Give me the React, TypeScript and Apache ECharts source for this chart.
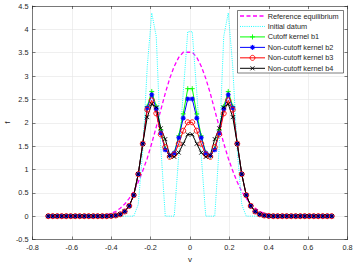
import React, { useEffect, useRef } from "react";
import * as echarts from "echarts";

const vGrid = [
  -0.72, -0.6971, -0.6743, -0.6514, -0.6286, -0.6057, -0.5829, -0.56, -0.5371, -0.5143, -0.4914, -0.4686,
  -0.4457, -0.4229, -0.4, -0.3771, -0.3543, -0.3314, -0.3086, -0.2857, -0.2629, -0.24, -0.2171, -0.1943,
  -0.1714, -0.1486, -0.1257, -0.1029, -0.08, -0.0571, -0.0343, -0.0114,
  0.0114, 0.0343, 0.0571, 0.08, 0.1029, 0.1257, 0.1486, 0.1714, 0.1943, 0.2171, 0.24, 0.2629,
  0.2857, 0.3086, 0.3314, 0.3543, 0.3771, 0.4, 0.4229, 0.4457, 0.4686, 0.4914, 0.5143, 0.5371,
  0.56, 0.5829, 0.6057, 0.6286, 0.6514, 0.6743, 0.6971, 0.72,
];

const refEquilibrium = [
  0, 0, 0, 0, 0, 0, 0, 0, 0, 0, 0, 0.005, 0.015, 0.03, 0.06, 0.1, 0.17, 0.26, 0.38, 0.53, 0.73, 0.97, 1.24, 1.56,
  1.91, 2.27, 2.63, 2.95, 3.21, 3.4, 3.51, 3.51,
  3.51, 3.4, 3.21, 2.95, 2.63, 2.27, 1.91, 1.56, 1.24, 0.97, 0.73, 0.53, 0.38, 0.26, 0.17, 0.1,
  0.06, 0.03, 0.015, 0.005, 0, 0, 0, 0, 0, 0, 0, 0, 0, 0, 0, 0,
];

const initialDatum = [
  0, 0, 0, 0, 0, 0, 0, 0, 0, 0, 0, 0, 0, 0, 0, 0, 0, 0, 0, 0, 0.25, 1.4, 3.2, 4.35,
  3.85, 1.5, 0, 0, 0, 1.3, 2.65, 3.95,
  3.95, 2.65, 1.3, 0, 0, 0, 1.5, 3.85, 4.35, 3.2, 1.4, 0.25, 0, 0, 0, 0,
  0, 0, 0, 0, 0, 0, 0, 0, 0, 0, 0, 0, 0, 0, 0, 0,
];

const kernelB1 = [
  0, 0, 0, 0, 0, 0, 0, 0, 0, 0, 0, 0, 0, 0, 0.005, 0.015, 0.04, 0.1, 0.22, 0.45, 0.9, 1.55, 2.35, 2.67,
  2.35, 1.85, 1.45, 1.28, 1.36, 1.72, 2.19, 2.73,
  2.73, 2.19, 1.72, 1.36, 1.28, 1.45, 1.85, 2.35, 2.67, 2.35, 1.55, 0.9, 0.45, 0.22, 0.1, 0.04,
  0.015, 0.005, 0, 0, 0, 0, 0, 0, 0, 0, 0, 0, 0, 0, 0, 0,
];

const kernelB2 = [
  0, 0, 0, 0, 0, 0, 0, 0, 0, 0, 0, 0, 0, 0, 0.005, 0.015, 0.04, 0.1, 0.22, 0.45, 0.9, 1.55, 2.32, 2.6,
  2.3, 1.78, 1.42, 1.3, 1.35, 1.68, 2.1, 2.51,
  2.51, 2.1, 1.68, 1.35, 1.3, 1.42, 1.78, 2.3, 2.6, 2.32, 1.55, 0.9, 0.45, 0.22, 0.1, 0.04,
  0.015, 0.005, 0, 0, 0, 0, 0, 0, 0, 0, 0, 0, 0, 0, 0, 0,
];

const kernelB3 = [
  0, 0, 0, 0, 0, 0, 0, 0, 0, 0, 0, 0, 0, 0, 0.005, 0.015, 0.04, 0.1, 0.22, 0.45, 0.9, 1.55, 2.28, 2.48,
  2.2, 1.75, 1.48, 1.27, 1.32, 1.55, 1.83, 2.01,
  2.01, 1.83, 1.55, 1.32, 1.27, 1.48, 1.75, 2.2, 2.48, 2.28, 1.55, 0.9, 0.45, 0.22, 0.1, 0.04,
  0.015, 0.005, 0, 0, 0, 0, 0, 0, 0, 0, 0, 0, 0, 0, 0, 0,
];

const kernelB4 = [
  0, 0, 0, 0, 0, 0, 0, 0, 0, 0, 0, 0, 0, 0, 0.005, 0.015, 0.04, 0.1, 0.22, 0.45, 0.9, 1.55, 2.12, 2.4,
  2.33, 1.88, 1.65, 1.3, 1.27, 1.36, 1.55, 1.75,
  1.75, 1.55, 1.36, 1.27, 1.3, 1.65, 1.88, 2.33, 2.4, 2.12, 1.55, 0.9, 0.45, 0.22, 0.1, 0.04,
  0.015, 0.005, 0, 0, 0, 0, 0, 0, 0, 0, 0, 0, 0, 0, 0, 0,
];

const seriesNames = [
  "Reference equilibrium",
  "Initial datum",
  "Cutoff kernel b1",
  "Non-cutoff kernel b2",
  "Non-cutoff kernel b3",
  "Non-cutoff kernel b4",
];

const FONT = "Liberation Sans, Arial, sans-serif";
const AX = "#262626";

const PLUS = "path://M0,5L10,5M5,0L5,10";
const CROSS = "path://M0,0L10,10M10,0L0,10";
const STAR = "path://M0,5L10,5M5,0L5,10M1.5,1.5L8.5,8.5M8.5,1.5L1.5,8.5";

function pairs(ys: number[]) {
  return vGrid.map((v, i) => [v, ys[i]]);
}

type LegendSpec = { color: string; width: number; dash?: number[]; marker: string };
const legendSpecs: LegendSpec[] = [
  { color: "#ff00ff", width: 1.3, dash: [4, 2.5], marker: "none" },
  { color: "#00ffff", width: 0.9, dash: [1, 1.2], marker: "none" },
  { color: "#00ff00", width: 1, marker: "plus" },
  { color: "#0000ff", width: 1, marker: "star" },
  { color: "#ff0000", width: 1, marker: "circle" },
  { color: "#000000", width: 1, marker: "cross" },
];

function buildLegend() {
  const els: any[] = [];
  const boxX = 237.5, boxY = 10.5, boxW = 106, boxH = 62.5;
  els.push({
    type: "rect", z: 100, shape: { x: boxX, y: boxY, width: boxW, height: boxH },
    style: { fill: "#fff", stroke: AX, lineWidth: 0.6 },
  });
  const x1 = 240, x2 = 265, cx = 252.5;
  legendSpecs.forEach((s, i) => {
    const y = 16 + i * 10.46;
    els.push({
      type: "line", z: 101, shape: { x1, y1: y, x2, y2: y },
      style: { stroke: s.color, lineWidth: s.width, lineDash: s.dash || null },
    });
    const r = 2.5;
    const seg = (ax: number, ay: number, bx: number, by: number, w: number) => ({
      type: "line", z: 102, shape: { x1: ax, y1: ay, x2: bx, y2: by },
      style: { stroke: s.color, lineWidth: w },
    });
    if (s.marker === "plus") {
      els.push(seg(cx - r, y, cx + r, y, 0.9), seg(cx, y - r, cx, y + r, 0.9));
    } else if (s.marker === "cross") {
      els.push(seg(cx - 2, y - 2, cx + 2, y + 2, 0.9), seg(cx - 2, y + 2, cx + 2, y - 2, 0.9));
    } else if (s.marker === "star") {
      els.push(
        seg(cx - r, y, cx + r, y, 1.1), seg(cx, y - r, cx, y + r, 1.1),
        seg(cx - 1.8, y - 1.8, cx + 1.8, y + 1.8, 1.1), seg(cx - 1.8, y + 1.8, cx + 1.8, y - 1.8, 1.1)
      );
    } else if (s.marker === "circle") {
      els.push({
        type: "circle", z: 102, shape: { cx, cy: y, r: 2.5 },
        style: { fill: "none", stroke: s.color, lineWidth: 0.9 },
      });
    }
    els.push({
      type: "text", z: 102, x: 267.7, y,
      style: {
        text: seriesNames[i], fontSize: 7.3, fill: AX, fontFamily: FONT,
        verticalAlign: "middle", align: "left",
      },
    });
  });
  return els;
}

export default function App() {
  const ref = useRef<HTMLDivElement>(null);
  useEffect(() => {
    document.body.style.margin = "0";
    if (!ref.current) return;
    const chart = echarts.init(ref.current, undefined, { renderer: "svg" });
    const axisLine = { show: true, onZero: false, lineStyle: { color: AX, width: 0.6 } };
    const axisTick = { show: true, inside: true, length: 3, lineStyle: { color: AX, width: 0.6 } };
    const splitLine = { show: true, lineStyle: { color: "#e4e4e4", width: 0.6 } };
    const labelStyle = { fontSize: 7.3, color: AX, fontFamily: FONT };
    chart.setOption({
      animation: false,
      backgroundColor: "#fff",
      grid: {
        left: 32.5, right: 6.5, top: 6, bottom: 26.5,
        containLabel: false, outerBoundsMode: "none",
      },
      xAxis: [
        {
          type: "value", min: -0.8, max: 0.8, interval: 0.2, position: "bottom",
          axisLine, axisTick, splitLine,
          axisLabel: { ...labelStyle, margin: 4 },
          name: "v", nameLocation: "middle", nameGap: 15,
          nameTextStyle: { fontSize: 8, color: AX, fontFamily: FONT },
        },
        {
          type: "value", min: -0.8, max: 0.8, interval: 0.2, position: "top",
          axisLine, axisTick, splitLine: { show: false }, axisLabel: { show: false },
        },
      ],
      yAxis: [
        {
          type: "value", min: -0.5, max: 4.5, interval: 0.5, position: "left",
          axisLine, axisTick, splitLine,
          axisLabel: { ...labelStyle, margin: 4 },
          name: "f", nameLocation: "middle", nameGap: 21, nameRotate: 90,
          nameMoveOverlap: false,
          nameTextStyle: { fontSize: 8, color: AX, fontFamily: FONT },
        },
        {
          type: "value", min: -0.5, max: 4.5, interval: 0.5, position: "right",
          axisLine, axisTick, splitLine: { show: false }, axisLabel: { show: false },
        },
      ],
      graphic: buildLegend(),
      series: [
        {
          name: seriesNames[0], type: "line", data: pairs(refEquilibrium), symbol: "none",
          lineStyle: { color: "#ff00ff", width: 1.3, type: [4, 2.5] },
          itemStyle: { color: "#ff00ff" },
        },
        {
          name: seriesNames[1], type: "line", data: pairs(initialDatum), symbol: "none",
          lineStyle: { color: "#00ffff", width: 0.9, type: [1, 1.2] },
          itemStyle: { color: "#00ffff" },
        },
        {
          name: seriesNames[2], type: "line", data: pairs(kernelB1), symbol: PLUS, symbolSize: 5,
          lineStyle: { color: "#00ff00", width: 1 },
          itemStyle: { color: "#00ff00", borderColor: "#00ff00", borderWidth: 0.9 },
        },
        {
          name: seriesNames[3], type: "line", data: pairs(kernelB2), symbol: STAR, symbolSize: 5,
          lineStyle: { color: "#0000ff", width: 1 },
          itemStyle: { color: "#0000ff", borderColor: "#0000ff", borderWidth: 1.1 },
        },
        {
          name: seriesNames[4], type: "line", data: pairs(kernelB3), symbol: "circle", symbolSize: 5,
          lineStyle: { color: "#ff0000", width: 1 },
          itemStyle: { color: "rgba(0,0,0,0)", borderColor: "#ff0000", borderWidth: 0.9 },
        },
        {
          name: seriesNames[5], type: "line", data: pairs(kernelB4), symbol: CROSS, symbolSize: 4,
          lineStyle: { color: "#000000", width: 1 },
          itemStyle: { color: "#000000", borderColor: "#000000", borderWidth: 0.9 },
        },
      ],
    });
    return () => chart.dispose();
  }, []);
  return (
    <div
      ref={ref}
      style={{ position: "absolute", left: 0, top: 0, width: 354, height: 266 }}
    />
  );
}
